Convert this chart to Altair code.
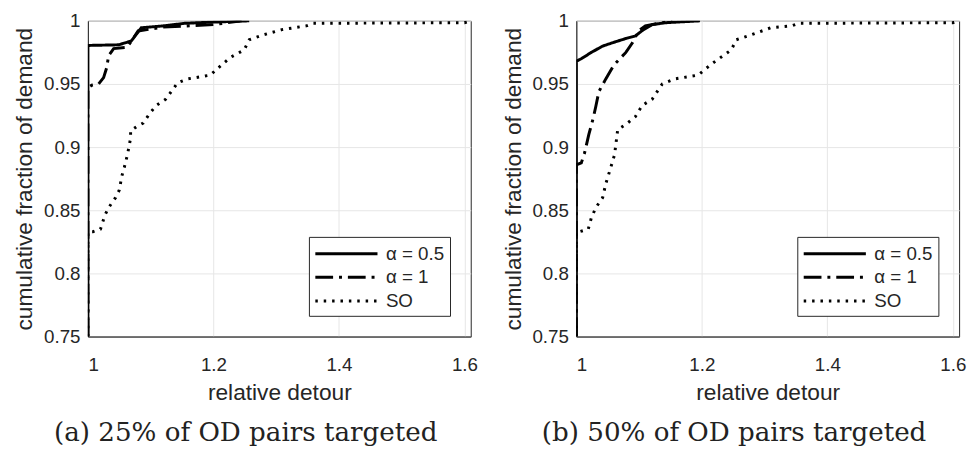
import altair as alt
import pandas as pd

series = ["α = 0.5", "α = 1", "SO"]
dashes = [[1, 0], [18, 6, 3, 6], [2.5, 6]]

x_ticks = [1, 1.2, 1.4, 1.6]
y_ticks = [0.75, 0.8, 0.85, 0.9, 0.95, 1.0]

# panel (a): 25% of OD pairs targeted
a_half_x = [1, 1, 1.049, 1.069, 1.085, 1.12, 1.154, 1.2, 1.257]
a_half_y = [0.75, 0.9805, 0.981, 0.984, 0.9945, 0.996, 0.998, 0.999, 1.0]
a_one_x = [1, 1, 1.006, 1.017, 1.025, 1.03, 1.033, 1.041, 1.062, 1.069, 1.08, 1.12, 1.2, 1.245]
a_one_y = [0.75, 0.947, 0.949, 0.95, 0.955, 0.963, 0.9725, 0.978, 0.979, 0.9836, 0.992, 0.995, 0.997, 1.0]
a_so_x = [1, 1, 1.008, 1.02, 1.027, 1.033, 1.044, 1.05, 1.054, 1.058, 1.063, 1.068, 1.068,
          1.077, 1.088, 1.099, 1.109, 1.124, 1.143, 1.159, 1.195, 1.206, 1.227, 1.249, 1.257,
          1.28, 1.309, 1.348, 1.359, 1.45, 1.6, 1.61]
a_so_y = [0.75, 0.833, 0.833, 0.835, 0.846, 0.852, 0.86, 0.866, 0.877, 0.884, 0.894, 0.907, 0.913,
          0.916, 0.919, 0.927, 0.933, 0.938, 0.951, 0.954, 0.957, 0.962, 0.971, 0.977, 0.985,
          0.989, 0.993, 0.996, 0.998, 0.9982, 0.9985, 1.0]

# panel (b): 50% of OD pairs targeted
b_half_x = [1, 1, 1.008, 1.024, 1.042, 1.06, 1.079, 1.094, 1.107, 1.121, 1.142, 1.197]
b_half_y = [0.75, 0.968, 0.970, 0.975, 0.980, 0.983, 0.986, 0.988, 0.993, 0.997, 0.9985, 1.0]
b_one_x = [1, 1, 1.008, 1.013, 1.02, 1.027, 1.031, 1.036, 1.047, 1.06, 1.079, 1.09, 1.099, 1.11, 1.153]
b_one_y = [0.75, 0.886, 0.8875, 0.895, 0.91, 0.923, 0.932, 0.944, 0.954, 0.965, 0.975, 0.983, 0.992, 0.996, 1.0]
b_so_x = [1, 1, 1.005, 1.019, 1.024, 1.031, 1.042, 1.047, 1.055, 1.061, 1.065, 1.066, 1.079, 1.094,
          1.105, 1.121, 1.137, 1.157, 1.194, 1.216, 1.247, 1.255, 1.279, 1.31, 1.343, 1.354,
          1.45, 1.6, 1.61]
b_so_y = [0.75, 0.833, 0.833, 0.835, 0.844, 0.852, 0.86, 0.871, 0.884, 0.894, 0.91, 0.914, 0.918, 0.924,
          0.933, 0.938, 0.95, 0.954, 0.957, 0.966, 0.977, 0.985, 0.989, 0.9945, 0.996, 0.998,
          0.9982, 0.9985, 1.0]

captions = ["(a) 25% of OD pairs targeted", "(b) 50% of OD pairs targeted"]


def frame(curves):
    rows = []
    for name, (xs, ys) in zip(series, curves):
        for i, (xv, yv) in enumerate(zip(xs, ys)):
            rows.append({"series": name, "x": xv, "y": yv, "i": i})
    return pd.DataFrame(rows)


def panel(df, caption):
    return alt.Chart(df).mark_line(clip=True, strokeWidth=3, color="black", strokeCap="butt").encode(
        x=alt.X("x:Q", scale=alt.Scale(domain=[1, 1.61], nice=False, zero=False),
                axis=alt.Axis(values=x_ticks, format="~g", title="relative detour")),
        y=alt.Y("y:Q", scale=alt.Scale(domain=[0.75, 1.0], nice=False, zero=False),
                axis=alt.Axis(values=y_ticks, format="~g", title="cumulative fraction of demand")),
        strokeDash=alt.StrokeDash(
            "series:N",
            scale=alt.Scale(domain=series, range=dashes),
            legend=alt.Legend(
                title=None, orient="bottom-right", offset=21,
                fillColor="white", strokeColor="#262626", padding=5,
                symbolType="M-3,0H3", symbolSize=441, symbolStrokeWidth=3,
                symbolFillColor="transparent", symbolOffset=21,
                symbolStrokeColor="black", labelFontSize=19, labelFont="Liberation Sans",
                labelColor="#262626", labelOffset=28, rowPadding=2,
            ),
        ),
        order="i:Q",
    ).properties(
        width=388, height=320,
        title=alt.TitleParams(caption, orient="bottom", font="DejaVu Serif", fontSize=26.5,
                              fontWeight="normal", color="#222222", offset=16,
                              frame="bounds", anchor="middle"),
    )


chart = alt.hconcat(
    panel(frame([(a_half_x, a_half_y), (a_one_x, a_one_y), (a_so_x, a_so_y)]), captions[0]),
    panel(frame([(b_half_x, b_half_y), (b_one_x, b_one_y), (b_so_x, b_so_y)]), captions[1]),
    spacing=23,
).properties(
    padding={"left": 5, "top": 0, "right": 0, "bottom": 0}
).resolve_scale(strokeDash="independent").configure_axis(
    labelFont="Liberation Sans", labelFontSize=19, labelColor="#262626",
    titleFont="Liberation Sans", titleFontSize=23, titleFontWeight="normal", titleColor="#262626",
    gridColor="#e6e6e6", gridWidth=1, domainColor="#262626", ticks=False,
).configure_axisY(titlePadding=7, labelPadding=8).configure_axisX(titlePadding=8, labelPadding=19).configure_view(
    stroke="#262626", strokeWidth=1
)

chart.save("out.html", embed_options={"renderer": "svg", "actions": False})
